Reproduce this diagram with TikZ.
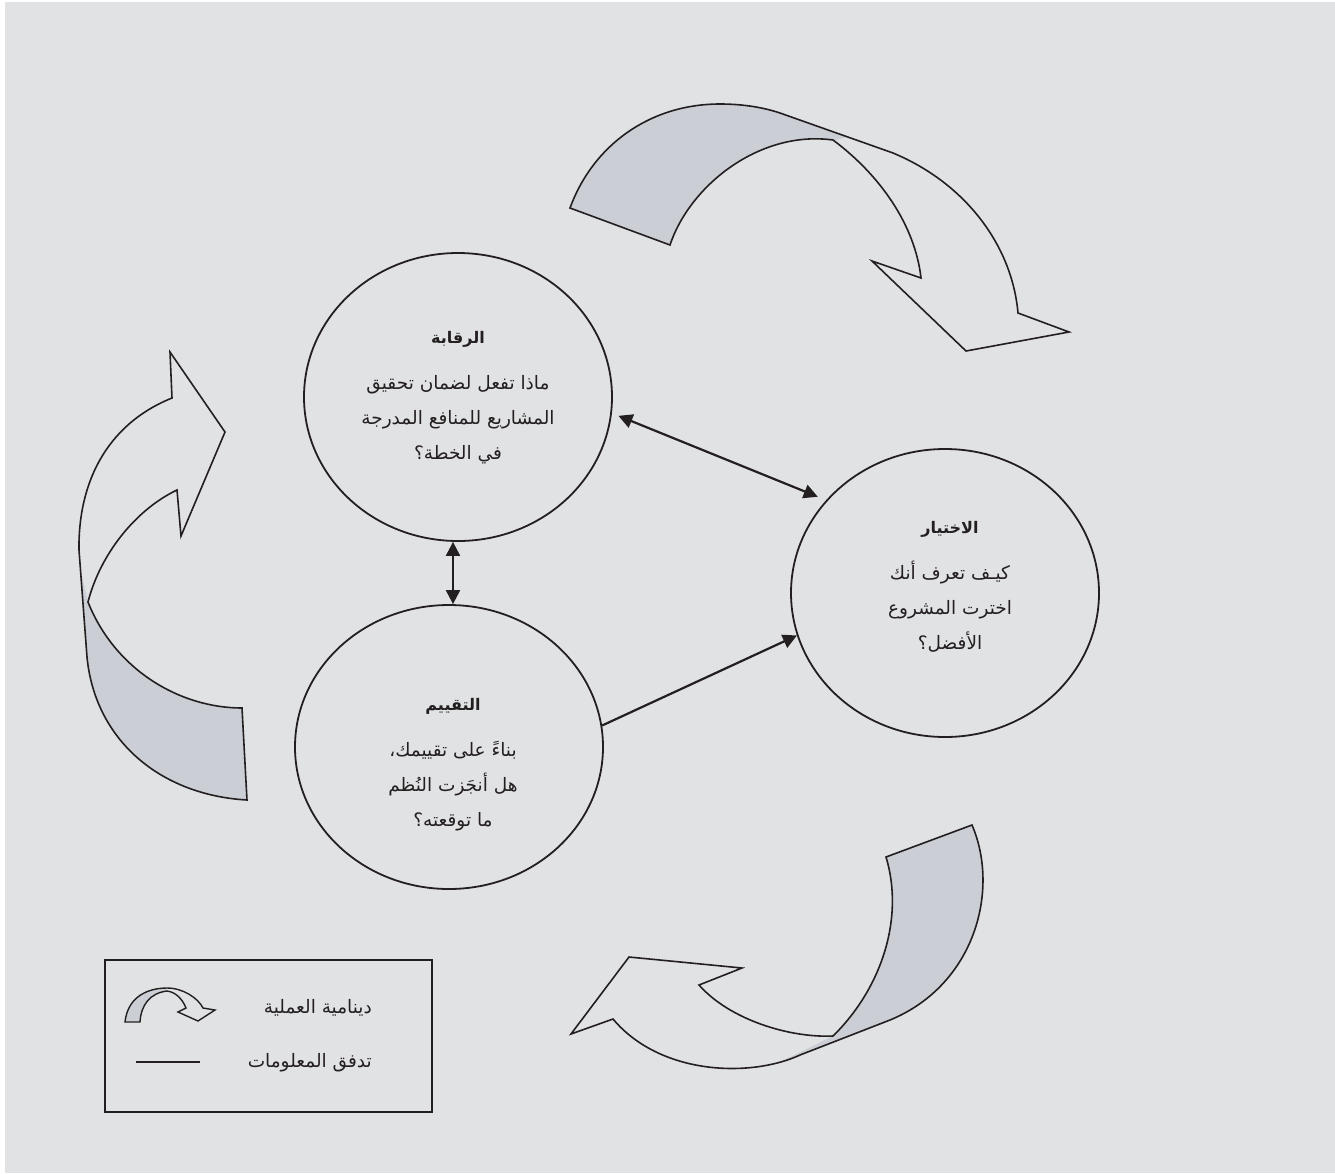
\documentclass[tikz,border=0pt]{standalone}
\usepackage{fontspec}
\usetikzlibrary{arrows.meta,shapes.geometric}
\newfontfamily\arabicfont[Script=Arabic]{DejaVu Sans}
\TeXXeTstate=1
\definecolor{bg}{HTML}{E1E2E4}
\definecolor{band}{HTML}{CBCED5}
\definecolor{ink}{HTML}{231F20}
\newcommand\stagetitlefont{\arabicfont\bfseries\fontsize{16}{20}\selectfont}

% outlines of the curved process arrows
\def\arrowTop{(670,245) -- (570,208) .. controls (593,145) and (650,104) .. (720,104) .. controls (745,104) and (765,108) .. (780,113) -- (893,153) .. controls (965,183) and (1012,245) .. (1018,313) -- (1069,332) -- (966,351) -- (872,261) -- (921,278) .. controls (915,225) and (880,175) .. (833,140) .. controls (760,130) and (690,185) .. (670,245) -- cycle}
\def\arrowLeft{(247,800) -- (242,708) .. controls (180,708) and (115,670) .. (88,602) .. controls (100,555) and (135,510) .. (177,490) -- (181,536) -- (225,432) -- (170,352) -- (172,398) .. controls (105,425) and (78,485) .. (79,550) -- (87,657) .. controls (95,740) and (160,795) .. (247,800) -- cycle}
\def\arrowBot{(886,857) -- (972,825) .. controls (1000,890) and (975,985) .. (890,1020) -- (800,1055) .. controls (750,1078) and (660,1075) .. (613,1019) -- (571,1034) -- (629,957) -- (742,968) -- (699,985) .. controls (730,1020) and (790,1038) .. (833,1036) .. controls (880,990) and (905,920) .. (886,857) -- cycle}
\def\arrowKey{(140,1022) -- (125,1022) .. controls (128,995) and (150,988) .. (167,988) .. controls (183,988) and (198,998) .. (203,1008) -- (215,1010) -- (198,1021) -- (178,1012) -- (186,1008) .. controls (182,998) and (175,992) .. (167,991) .. controls (150,993) and (141,1005) .. (140,1022) -- cycle}

\begin{document}
\begin{tikzpicture}[x=1pt,y=-1pt,
  >={Triangle[length=14pt,width=14pt]},
  stage/.style={draw=ink,line width=1.8pt,ellipse,inner sep=0pt},
  txt/.style={font=\arabicfont\fontsize{18.5}{35}\selectfont,align=center,inner sep=0pt,text=ink},
  keytxt/.style={font=\arabicfont\fontsize{18.5}{22}\selectfont,inner sep=0pt,text=ink},
  outline/.style={draw=ink,line width=1.6pt,line join=miter},
  flow/.style={draw=ink,line width=2.2pt,->},
  both/.style={draw=ink,line width=2.2pt,<->}]

\useasboundingbox (0,0) rectangle (1335,1173);
\fill[white] (0,0) rectangle (1335,1173);
\fill[bg] (5,2) rectangle (1335,1173);

% shaded back faces of the process arrows
\begin{scope}
  \clip (400,0) -- (870,0) -- (850,136) -- (833,141) -- (700,400) -- (400,400) -- cycle;
  \fill[band] \arrowTop;
\end{scope}
\begin{scope}
  \clip (0,1200) -- (0,560) -- (80,568) -- (88,602) -- (300,500) -- (300,1200) -- cycle;
  \fill[band] \arrowLeft;
\end{scope}
\begin{scope}
  \clip (833,1036) -- (850,800) -- (1200,800) -- (1200,1200) -- (770,1200) -- (780,1062) -- cycle;
  \fill[band] \arrowBot;
\end{scope}
\begin{scope}
  \clip (100,950) -- (168,950) -- (167,991) -- (167,1050) -- (100,1050) -- cycle;
  \fill[band] \arrowKey;
\end{scope}

\draw[outline] \arrowTop;
\draw[outline] \arrowLeft;
\draw[outline] \arrowBot;
\draw[outline,line width=1.4pt] \arrowKey;

% the three stages
\node[stage,minimum width=308pt,minimum height=288pt] (top) at (458,397) {};
\node[stage,minimum width=308pt,minimum height=284pt] (bot) at (449,747) {};
\node[stage,minimum width=308pt,minimum height=288pt] (right) at (945,593) {};

\node[txt] (topTxt) at (458,398) {{\stagetitlefont\beginR الرقابة\endR}\\[11pt]
  \beginR ماذا تفعل لضمان تحقيق\endR\\
  \beginR المشاريع للمنافع المدرجة\endR\\
  \beginR في الخطة؟\endR};
\node[txt] (rightTxt) at (950,587) {{\stagetitlefont\beginR الاختيار\endR}\\[11pt]
  \beginR كيـف تعرف أنك\endR\\
  \beginR اخترت المشروع\endR\\
  \beginR الأفضل؟\endR};
\node[txt] (botTxt) at (453,765) {{\stagetitlefont\beginR التقييم\endR}\\[11pt]
  \beginR بناءً على تقييمك،\endR\\
  \beginR هل أنجَزت النُظم\endR\\
  \beginR ما توقعته؟\endR};

% information flow
\draw[both,shorten <=7pt,shorten >=9pt] (top.-6) -- (right.142.5);
\draw[both] ([xshift=-5pt]top.south) -- ([xshift=4pt]bot.north);
\draw[flow] (bot.8) -- (right.196);

% key
\draw[draw=ink,line width=1.6pt] (105,960) rectangle (432,1112);
\node[keytxt,anchor=east] (k1) at (372,1008) {\beginR دينامية العملية\endR};
\node[keytxt,anchor=east] (k2) at (372,1063) {\beginR تدفق المعلومات\endR};
\draw[draw=ink,line width=1.8pt] (136,1062) -- (200,1062);
\end{tikzpicture}
\end{document}
